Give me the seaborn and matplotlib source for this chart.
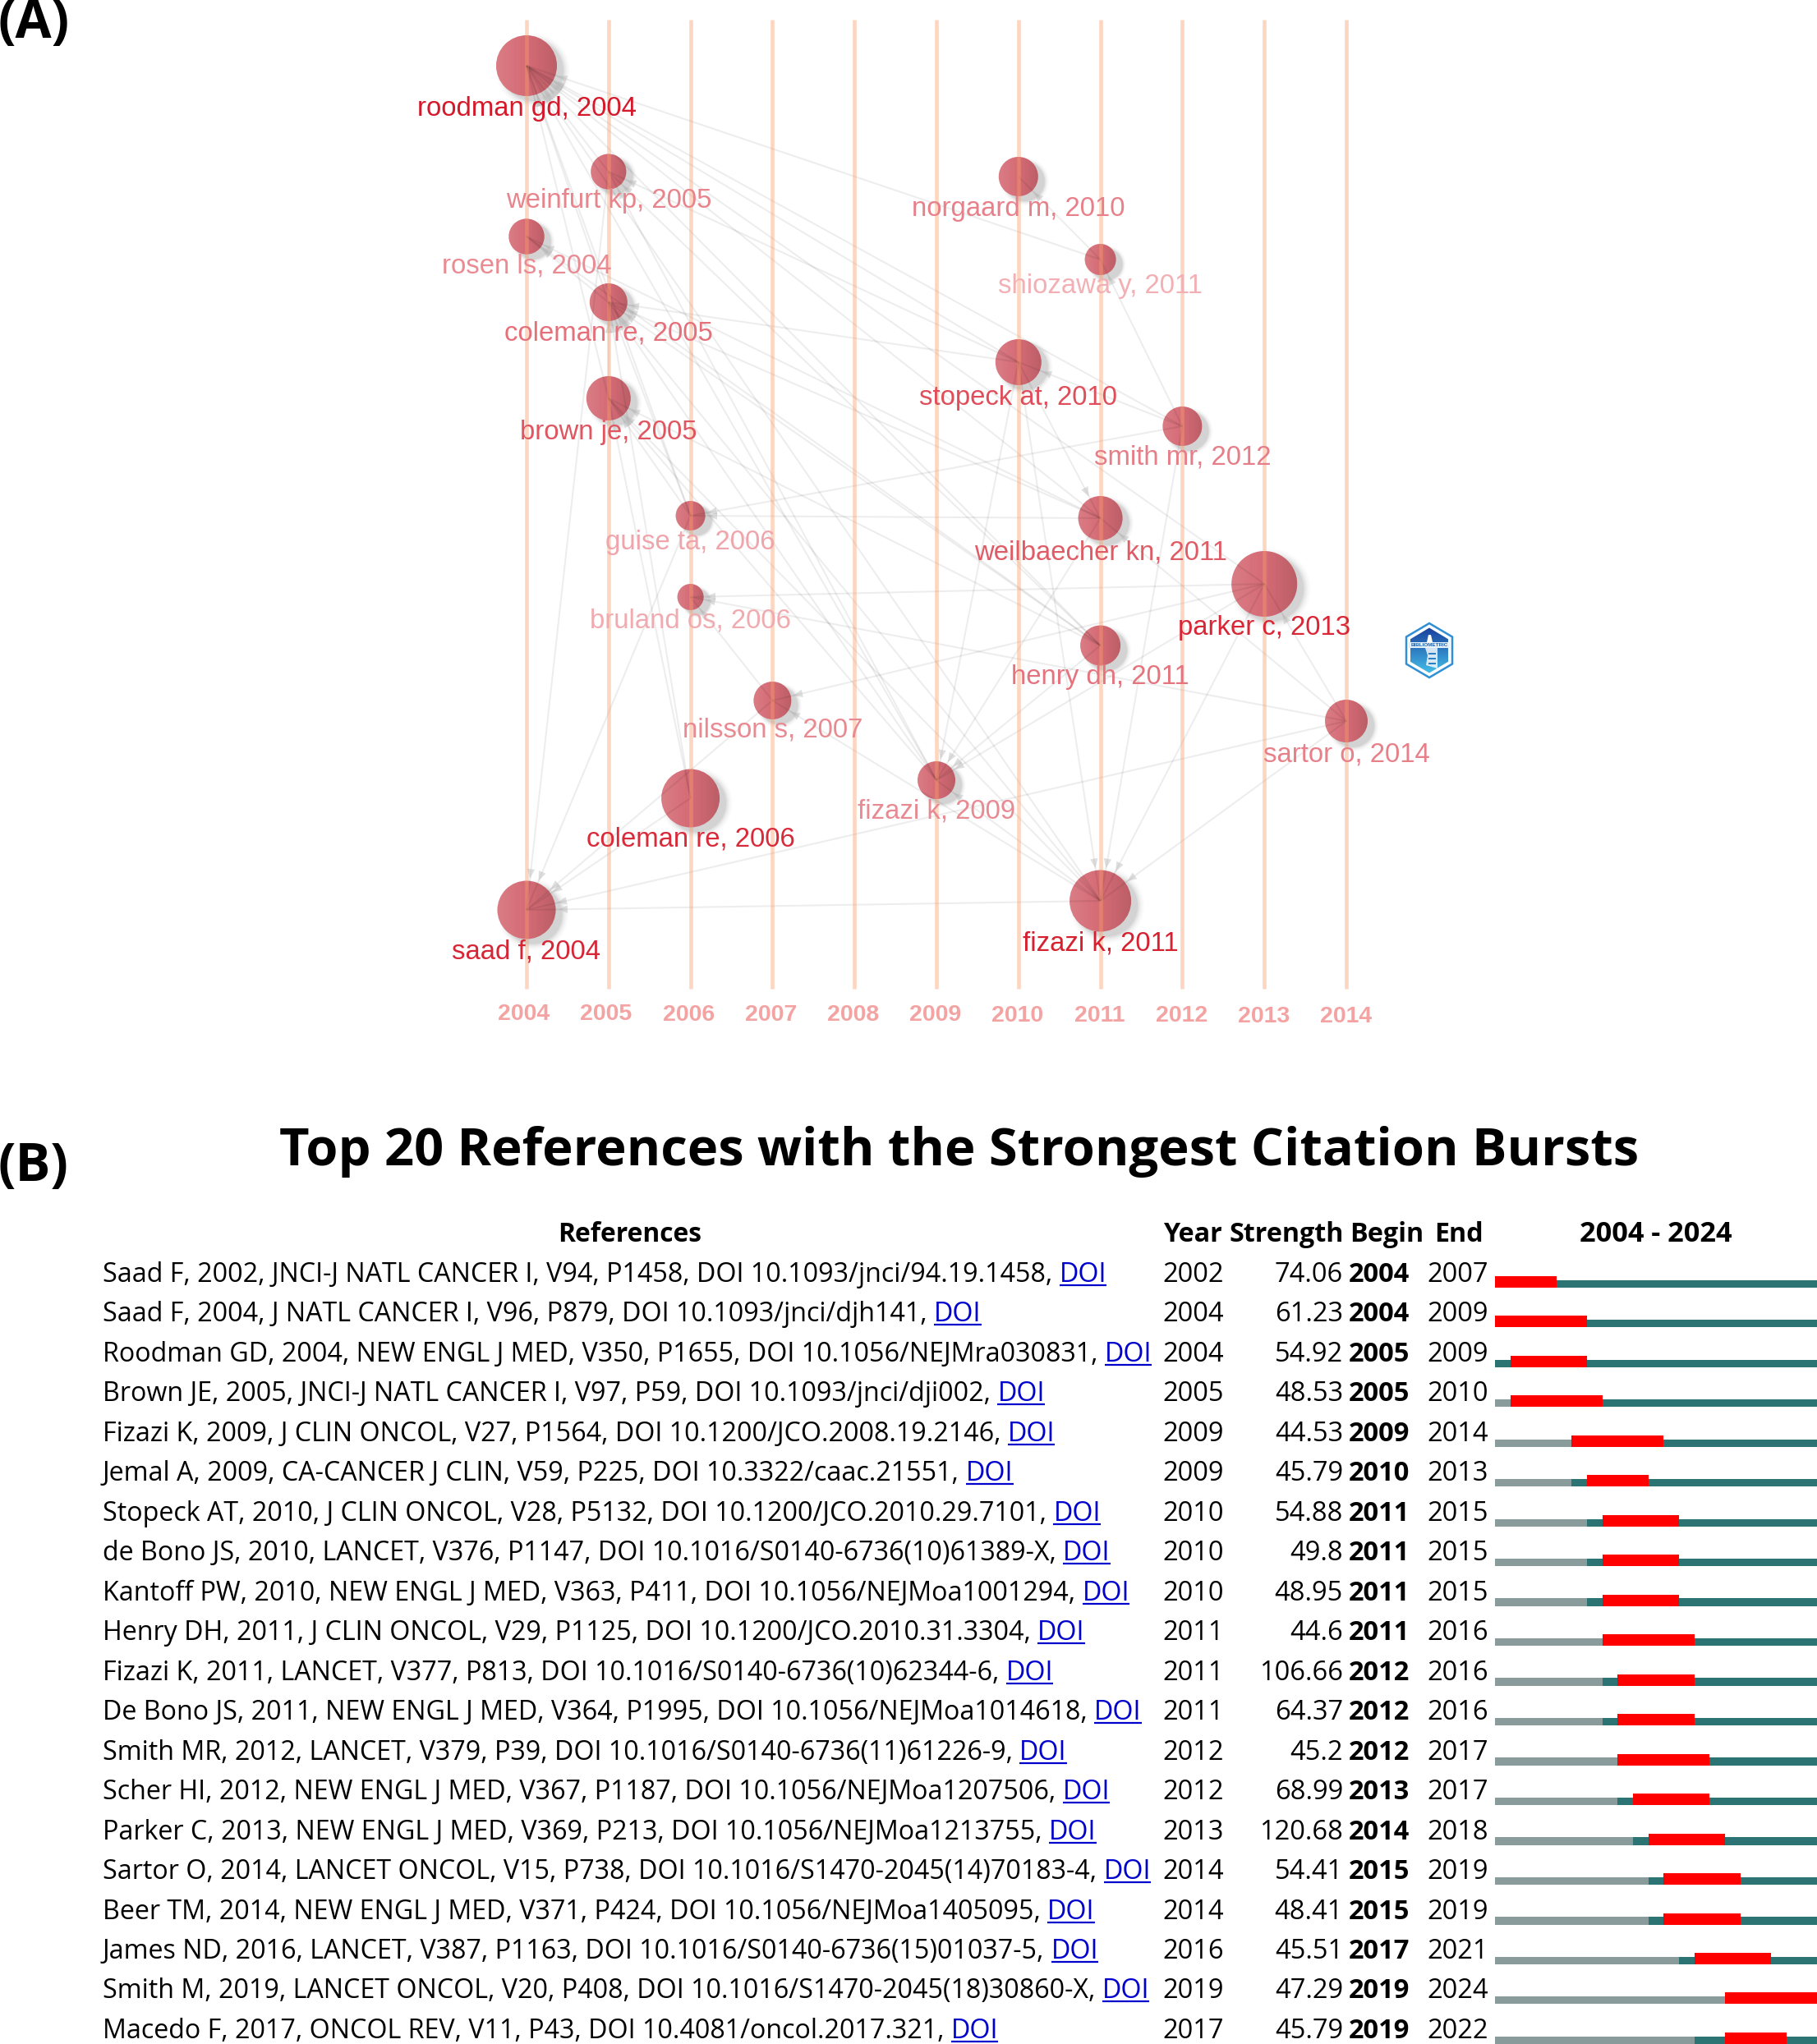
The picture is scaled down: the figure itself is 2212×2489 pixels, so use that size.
import numpy as np
import pandas as pd
import matplotlib
matplotlib.use("Agg")
import matplotlib.pyplot as plt
import seaborn as sns
from matplotlib.patches import Ellipse, Polygon, Rectangle
from matplotlib.transforms import ScaledTranslation

# ---------- Panel A data ----------
node_keys = ["roodman","weinfurt","rosen","coleman05","brown","guise","bruland","nilsson","coleman06","saad",
             "fizazi09","norgaard","shiozawa","stopeck","smith","weilbaecher","henry","parker","sartor","fizazi11"]
node_labels = ["roodman gd, 2004","weinfurt kp, 2005","rosen ls, 2004","coleman re, 2005","brown je, 2005",
               "guise ta, 2006","bruland os, 2006","nilsson s, 2007","coleman re, 2006","saad f, 2004",
               "fizazi k, 2009","norgaard m, 2010","shiozawa y, 2011","stopeck at, 2010","smith mr, 2012",
               "weilbaecher kn, 2011","henry dh, 2011","parker c, 2013","sartor o, 2014","fizazi k, 2011"]
node_years = [2004,2005,2004,2005,2005,2006,2006,2007,2006,2004,2009,2010,2011,2010,2012,2011,2011,2013,2014,2011]
node_pos = [80,209,288,368,485,628,727,853,972,1108,950,215,316,441,519,631,786,711,878,1097]
node_radius = [37,21.6,21.7,23,27,18,16,23,35.5,35.5,23,24,19,28,24,27,24.5,40,26,37.5]
label_pos = [132,244,324,406,527,660,756,889,1022,1159,988,254,348,484,557,673,825,764,919,1149]
label_colors = ["#d5182a","#e8848c","#ea8a92","#e4707a","#df5660","#efa5ab","#f0abb0","#e88a92","#d92a3a","#d62636",
                "#e88a92","#e8808a","#f2b0b5","#df4e5a","#e57e88","#df5c66","#e4747e","#d92636","#e8808a","#d62030"]
years_axis = list(range(2004, 2015))
edges = [("weinfurt","roodman"),("coleman05","roodman"),("brown","roodman"),("guise","roodman"),("shiozawa","roodman"),
         ("stopeck","roodman"),("smith","roodman"),("weilbaecher","roodman"),("henry","roodman"),("fizazi09","roodman"),
         ("parker","roodman"),("fizazi11","roodman"),("coleman05","rosen"),("henry","rosen"),("weilbaecher","rosen"),
         ("henry","weinfurt"),("fizazi09","weinfurt"),("stopeck","weinfurt"),("weinfurt","saad"),("stopeck","coleman05"),
         ("brown","coleman05"),("weilbaecher","coleman05"),("henry","coleman05"),("guise","coleman05"),("coleman06","coleman05"),
         ("fizazi09","coleman05"),("fizazi11","coleman05"),("guise","brown"),("fizazi09","brown"),
         ("henry","brown"),("fizazi11","brown"),("coleman06","brown"),("guise","saad"),("coleman06","saad"),("fizazi11","saad"),
         ("sartor","saad"),("nilsson","saad"),("nilsson","bruland"),("parker","bruland"),("sartor","bruland"),
         ("weilbaecher","guise"),("smith","guise"),("parker","nilsson"),("fizazi11","nilsson"),
         ("stopeck","fizazi09"),("weilbaecher","fizazi09"),("henry","fizazi09"),("parker","fizazi09"),
         ("fizazi11","fizazi09"),("stopeck","fizazi11"),("smith","fizazi11"),("parker","fizazi11"),("sartor","fizazi11"),
         ("sartor","weilbaecher"),("sartor","parker"),("smith","stopeck"),("smith","shiozawa"),
         ("shiozawa","norgaard"),("stopeck","weilbaecher")]

# ---------- Panel B data ----------
references = [
 "Saad F, 2002, JNCI-J NATL CANCER I, V94, P1458, DOI 10.1093/jnci/94.19.1458, ",
 "Saad F, 2004, J NATL CANCER I, V96, P879, DOI 10.1093/jnci/djh141, ",
 "Roodman GD, 2004, NEW ENGL J MED, V350, P1655, DOI 10.1056/NEJMra030831, ",
 "Brown JE, 2005, JNCI-J NATL CANCER I, V97, P59, DOI 10.1093/jnci/dji002, ",
 "Fizazi K, 2009, J CLIN ONCOL, V27, P1564, DOI 10.1200/JCO.2008.19.2146, ",
 "Jemal A, 2009, CA-CANCER J CLIN, V59, P225, DOI 10.3322/caac.21551, ",
 "Stopeck AT, 2010, J CLIN ONCOL, V28, P5132, DOI 10.1200/JCO.2010.29.7101, ",
 "de Bono JS, 2010, LANCET, V376, P1147, DOI 10.1016/S0140-6736(10)61389-X, ",
 "Kantoff PW, 2010, NEW ENGL J MED, V363, P411, DOI 10.1056/NEJMoa1001294, ",
 "Henry DH, 2011, J CLIN ONCOL, V29, P1125, DOI 10.1200/JCO.2010.31.3304, ",
 "Fizazi K, 2011, LANCET, V377, P813, DOI 10.1016/S0140-6736(10)62344-6, ",
 "De Bono JS, 2011, NEW ENGL J MED, V364, P1995, DOI 10.1056/NEJMoa1014618, ",
 "Smith MR, 2012, LANCET, V379, P39, DOI 10.1016/S0140-6736(11)61226-9, ",
 "Scher HI, 2012, NEW ENGL J MED, V367, P1187, DOI 10.1056/NEJMoa1207506, ",
 "Parker C, 2013, NEW ENGL J MED, V369, P213, DOI 10.1056/NEJMoa1213755, ",
 "Sartor O, 2014, LANCET ONCOL, V15, P738, DOI 10.1016/S1470-2045(14)70183-4, ",
 "Beer TM, 2014, NEW ENGL J MED, V371, P424, DOI 10.1056/NEJMoa1405095, ",
 "James ND, 2016, LANCET, V387, P1163, DOI 10.1016/S0140-6736(15)01037-5, ",
 "Smith M, 2019, LANCET ONCOL, V20, P408, DOI 10.1016/S1470-2045(18)30860-X, ",
 "Macedo F, 2017, ONCOL REV, V11, P43, DOI 10.4081/oncol.2017.321, ",
]
pub_year = [2002,2004,2004,2005,2009,2009,2010,2010,2010,2011,2011,2011,2012,2012,2013,2014,2014,2016,2019,2017]
strength = ["74.06","61.23","54.92","48.53","44.53","45.79","54.88","49.8","48.95","44.6","106.66","64.37","45.2","68.99",
            "120.68","54.41","48.41","45.51","47.29","45.79"]
begin = [2004,2004,2005,2005,2009,2010,2011,2011,2011,2011,2012,2012,2012,2013,2014,2015,2015,2017,2019,2019]
end = [2007,2009,2009,2010,2014,2013,2015,2015,2015,2016,2016,2016,2017,2017,2018,2019,2019,2021,2024,2022]

sns.set_theme(style="white")
W, H = 2212, 2489
fig = plt.figure(figsize=(W/100, H/100), dpi=100, facecolor="white")
PT = 0.72
TXT = ["Open Sans", "DejaVu Sans"]
ARIAL = ["Liberation Sans", "DejaVu Sans"]

# ---------- Panel A ----------
A_BOTTOM = 1215
axA = fig.add_axes([0, 1 - A_BOTTOM/H, 1, A_BOTTOM/H])
PX_PER_YEAR = 99.8
X0 = 641
axA.set_xlim(2004 - X0/PX_PER_YEAR, 2004 + (W - X0)/PX_PER_YEAR)
axA.set_ylim(A_BOTTOM, 0)
nodes = pd.DataFrame(dict(key=node_keys, label=node_labels, year=node_years, pos=node_pos, r=node_radius,
                          lpos=label_pos, color=label_colors))
nodes["size"] = (2*nodes.r*PT)**2
idx = nodes.set_index("key")

# soft shadows
shadow_tf = axA.transData + ScaledTranslation(8*PT/72, -6*PT/72, fig.dpi_scale_trans)
for f, a in [(1.22, .012), (1.17, .018), (1.12, .025), (1.08, .03), (1.04, .04), (1.0, .05)]:
    axA.scatter(nodes.year, nodes.pos, s=nodes["size"]*f*f, color="black", alpha=a, linewidths=0,
                transform=shadow_tf, zorder=2)

sns.scatterplot(data=nodes, x="year", y="pos", size="size", sizes=(nodes["size"].min(), nodes["size"].max()),
                size_norm=(nodes["size"].min(), nodes["size"].max()), color="#d56b75", alpha=1, linewidth=0,
                legend=False, ax=axA, zorder=3)

# shaded sphere look
grad = np.zeros((2, 64, 4))
t = np.linspace(0, 1, 64)
grad[..., :3] = np.where(t[None, :, None] < .5, 1.0, 0.0)
grad[..., 3] = np.abs(t - .5)[None, :] * .24
xl, yl = axA.get_xlim(), axA.get_ylim()
for _, n in nodes.iterrows():
    rx = n.r/PX_PER_YEAR
    im = axA.imshow(grad, extent=(n.year-rx, n.year+rx, n.pos+n.r, n.pos-n.r), aspect="auto", zorder=3.2,
                    interpolation="bilinear")
    im.set_clip_path(Ellipse((n.year, n.pos), 2*rx, 2*n.r, transform=axA.transData))
axA.set_xlim(xl); axA.set_ylim(yl)

# citation links
for citing, cited in edges:
    a, b = idx.loc[citing], idx.loc[cited]
    axA.plot([a.year, b.year], [a.pos, b.pos], color=(0, 0, 0, .07), lw=1.5, zorder=3.5, solid_capstyle="butt")
    axA.annotate("", xy=(b.year, b.pos), xytext=(a.year, a.pos), zorder=3.6,
                 arrowprops=dict(arrowstyle="-|>,head_length=0.7,head_width=0.28", fc=(.72, .72, .72, .45), ec="none",
                                 lw=0, shrinkA=0, shrinkB=b.r*PT+2, mutation_scale=12))

# year lines
for y in years_axis:
    axA.plot([y, y], [24, 1204], color=(.98, .62, .42, .42), lw=3.3, zorder=4, solid_capstyle="butt")

for _, n in nodes.iterrows():
    axA.text(n.year, n.lpos, n.label, color=n.color, fontsize=23.7, family=ARIAL, ha="center", va="center", zorder=5)

axA.set_xticks(years_axis)
axA.set_xticklabels([str(y) for y in years_axis], family=ARIAL, fontsize=20.5, fontweight="bold", color="#f4a3a3")
axA.tick_params(axis="x", length=0, pad=5)
for k, lab in enumerate(axA.get_xticklabels()):
    lab.set_transform(lab.get_transform() + ScaledTranslation((-3 + .3*k)*PT/72, (-.3*k)*PT/72, fig.dpi_scale_trans))
axA.set_yticks([])
axA.set_xlabel(""); axA.set_ylabel("")
sns.despine(ax=axA, left=True, bottom=True)
axA.patch.set_alpha(0)

# ---------- Panel B bars ----------
BX0, BX1 = 1820, 2212
BASE0, PITCH = 1561, 48.47
B_TOP = 1530
axB = fig.add_axes([BX0/W, 0, (BX1-BX0)/W, 1 - B_TOP/H])
axB.set_xlim(2004, 2025)
axB.set_ylim((H - BASE0)/PITCH, (B_TOP - BASE0)/PITCH)
for i in range(len(references)):
    g_end = max(pub_year[i], 2004)
    bar_bottom, teal_top, red_top = i + 7/PITCH, i - 2.3/PITCH, i - 7/PITCH
    if g_end > 2004:
        axB.barh(teal_top, g_end-2004, left=2004, height=bar_bottom-teal_top, align="edge", color="#8a9b9b", linewidth=0)
    axB.barh(teal_top, 2025-g_end, left=g_end, height=bar_bottom-teal_top, align="edge", color="#2c7373", linewidth=0)
    axB.barh(red_top, end[i]+1-begin[i], left=begin[i], height=bar_bottom-red_top, align="edge", color="#ff0000", linewidth=0)
axB.axis("off")

# ---------- Overlay in figure pixels ----------
ov = fig.add_axes([0, 0, 1, 1], zorder=10)
ov.set_xlim(0, W); ov.set_ylim(H, 0); ov.axis("off"); ov.patch.set_alpha(0)

ov.text(-2, 30, "(A)", fontsize=46, fontweight="bold", family=TXT, ha="left", va="center", color="black")
ov.text(-2, 1421, "(B)", fontsize=46, fontweight="bold", family=TXT, ha="left", va="center", color="black")
ov.text(1168, 1402, "Top 20 References with the Strongest Citation Bursts", fontsize=45.5, fontweight="bold",
        family=TXT, ha="center", va="center", color="black")

HDR = 1512
FS = 23.5
for x, s, ha, fs in [(767, "References", "center", FS-.6), (1416, "Year", "left", FS-.3), (1497, "Strength", "left", FS-.3),
                     (1643, "Begin", "left", FS-.3), (1746, "End", "left", FS-.3), (2016, "2004 - 2024", "center", FS+1.2)]:
    ov.text(x, HDR, s, fontsize=fs, fontweight="bold", family=TXT, ha=ha, va="baseline", color="black")

REF_FS = 23.25
fig.canvas.draw()
rend = fig.canvas.get_renderer()
for i, ref in enumerate(references):
    yb = BASE0 + PITCH*i
    t = ov.text(125, yb, ref, fontsize=REF_FS, family=TXT, ha="left", va="baseline", color="black")
    bb = t.get_window_extent(rend)
    start = 125 + bb.width
    d = ov.text(start, yb, "DOI", fontsize=REF_FS, family=TXT, ha="left", va="baseline", color="#0000cc")
    bd = d.get_window_extent(rend)
    ov.plot([start, start + bd.width], [yb+4, yb+4], color="#0000cc", lw=1.6, solid_capstyle="butt")
    ov.text(1415, yb, str(pub_year[i]), fontsize=FS, family=TXT, ha="left", va="baseline", color="black")
    ov.text(1635, yb, strength[i], fontsize=FS, family=TXT, ha="right", va="baseline", color="black")
    ov.text(1642, yb, str(begin[i]), fontsize=FS, fontweight="bold", family=TXT, ha="left", va="baseline", color="black")
    ov.text(1737, yb, str(end[i]), fontsize=FS, family=TXT, ha="left", va="baseline", color="black")

# small emblem of the source software
cx, cy = 1740, 792
def hexagon(rw, rh):
    return [(cx, cy-rh), (cx+rw, cy-rh/2), (cx+rw, cy+rh/2), (cx, cy+rh), (cx-rw, cy+rh/2), (cx-rw, cy-rh/2)]
ov.add_patch(Polygon(hexagon(28, 33), closed=True, fc="white", ec="#2f8fd6", lw=1.8))
inner = Polygon(hexagon(23, 27.5), closed=True, fc="none", ec="none", transform=ov.transData)
ov.add_patch(inner)
vgrad = np.linspace(0, 1, 32)[:, None, None] * np.array([[[.16, .48, .28]]]) + np.array([[[.10, .25, .62]]])
im = ov.imshow(vgrad, extent=(cx-23, cx+23, cy+27.5, cy-27.5), aspect="auto", zorder=1)
im.set_clip_path(inner)
ov.set_xlim(0, W); ov.set_ylim(H, 0)
ov.add_patch(Polygon([(cx-1, cy-19), (cx+2, cy-19), (cx+4, cy-10), (cx-3, cy-10)], closed=True, fc="white", ec="none", zorder=2))
ov.add_patch(Rectangle((cx-25, cy-10), 50, 7, fc="#e6f1fa", ec="none", zorder=2))
ov.add_patch(Polygon([(cx-5, cy-3), (cx+10, cy-3), (cx+10, cy+22), (cx-4, cy+18), (cx-2, cy+6)], closed=True, fc="white", ec="none", alpha=.8, zorder=2))
for dy in (3, 9, 15):
    ov.add_patch(Rectangle((cx-1, cy+dy), 9, 2, fc="#2a7fc8", ec="none", zorder=3))
ov.text(cx, cy-6.5, "BIBLIOMETRIC", fontsize=4.6, fontweight="bold", family=ARIAL, color="#1f62a8", ha="center", va="center", zorder=3)

fig.savefig("out.png", dpi=100)
